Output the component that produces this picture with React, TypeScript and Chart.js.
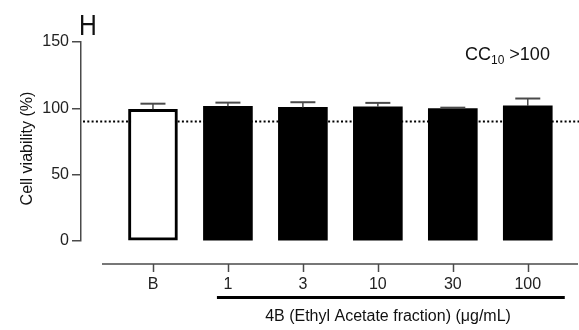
import React, { useEffect, useRef } from "react";
import { Chart, registerables } from "chart.js";

Chart.register(...registerables);

const categories: string[] = ["B", "1", "3", "10", "30", "100"];
const viability: number[] = [99.3, 101.5, 100.7, 101.2, 99.8, 101.8];
const sem: number[] = [4.2, 2.8, 3.9, 2.9, 0.7, 5.6];
const yTicks: number[] = [0, 50, 100, 150];
const thresholdValue = 90;
const panelLetter = "H";
const ccLabel = ["CC", "10", " >100"];
const xTitle = "4B (Ethyl Acetate fraction) (\u03bcg/mL)";
const yTitle = "Cell viability (%)";

const FONT = "'Liberation Sans', Arial, Helvetica, sans-serif";

export default function App() {
  const ref = useRef<HTMLCanvasElement | null>(null);

  useEffect(() => {
    if (!ref.current) return;

    const overlay = {
      id: "overlay",
      beforeDatasetsDraw(chart: any) {
        const { ctx, scales } = chart;
        const y = scales.y.getPixelForValue(thresholdValue);
        ctx.save();
        ctx.strokeStyle = "#000";
        ctx.lineWidth = 2;
        ctx.setLineDash([2, 2.3]);
        ctx.beginPath();
        ctx.moveTo(chart.chartArea.left + 2, y);
        ctx.lineTo(chart.width, y);
        ctx.stroke();
        ctx.restore();
      },
      afterDatasetsDraw(chart: any) {
        const { ctx, scales } = chart;
        const xs = scales.x;
        const ys = scales.y;
        ctx.save();
        // error bars
        viability.forEach((v, i) => {
          const x = xs.getPixelForValue(i);
          const y0 = ys.getPixelForValue(v);
          const y1 = ys.getPixelForValue(v + sem[i]);
          ctx.strokeStyle = "#4a4a4a";
          ctx.lineWidth = 1.5;
          ctx.beginPath();
          ctx.moveTo(x, y0);
          ctx.lineTo(x, y1);
          ctx.stroke();
          ctx.lineWidth = 2;
          ctx.beginPath();
          ctx.moveTo(x - 12.5, y1);
          ctx.lineTo(x + 12.5, y1);
          ctx.stroke();
        });
        // separate x axis line
        const axisY = ys.bottom + 23;
        ctx.strokeStyle = "#4a4a4a";
        ctx.lineWidth = 1.5;
        ctx.beginPath();
        ctx.moveTo(102, axisY);
        ctx.lineTo(chart.chartArea.right, axisY);
        ctx.stroke();
        categories.forEach((_, i) => {
          const x = Math.round(xs.getPixelForValue(i)) + 0.5;
          ctx.beginPath();
          ctx.moveTo(x, axisY);
          ctx.lineTo(x, axisY + 8);
          ctx.stroke();
        });
        // underline below treated groups
        ctx.strokeStyle = "#000";
        ctx.lineWidth = 3;
        ctx.beginPath();
        ctx.moveTo(xs.getPixelForValue(1) - 11, axisY + 33.5);
        ctx.lineTo(xs.getPixelForValue(5) + 37, axisY + 33.5);
        ctx.stroke();

        // texts
        ctx.fillStyle = "#111";
        ctx.textBaseline = "alphabetic";
        ctx.textAlign = "left";
        ctx.font = `29px ${FONT}`;
        ctx.save();
        ctx.translate(79, 35);
        ctx.scale(0.85, 1);
        ctx.fillText(panelLetter, 0, 0);
        ctx.restore();

        let cx = 465;
        ctx.font = `18px ${FONT}`;
        ctx.fillText(ccLabel[0], cx, 60);
        cx += ctx.measureText(ccLabel[0]).width;
        ctx.font = `12px ${FONT}`;
        ctx.fillText(ccLabel[1], cx, 64);
        cx += ctx.measureText(ccLabel[1]).width;
        ctx.font = `18px ${FONT}`;
        ctx.fillText(ccLabel[2], cx, 60);

        ctx.font = `16px ${FONT}`;
        ctx.textAlign = "center";
        ctx.fillText(xTitle, 388, 321);

        ctx.save();
        ctx.translate(32, 148.5);
        ctx.rotate(-Math.PI / 2);
        ctx.fillText(yTitle, 0, 0);
        ctx.restore();

        ctx.restore();
      },
    };

    const chart = new Chart(ref.current, {
      type: "bar",
      data: {
        datasets: [
          {
            data: viability.map((v, i) => ({ x: i, y: v })),
            backgroundColor: categories.map((_, i) => (i === 0 ? "#ffffff" : "#000000")),
            borderColor: "#000000",
            borderWidth: categories.map((_, i) => (i === 0 ? 3 : 0)),
            borderSkipped: false,
            barThickness: 49,
          },
        ],
      },
      options: {
        responsive: false,
        animation: false,
        devicePixelRatio: 1,
        layout: { padding: { top: 42, right: 1, left: 0, bottom: 0 } },
        plugins: { legend: { display: false }, tooltip: { enabled: false }, title: { display: false } },
        scales: {
          x: {
            type: "linear",
            offset: false,
            min: -0.96,
            max: 5.67,
            grid: { display: false, drawTicks: false, offset: false },
            border: { display: false },
            afterBuildTicks: (scale: any) => {
              scale.ticks = categories.map((_, i) => ({ value: i }));
            },
            afterFit: (scale: any) => {
              scale.height = 89;
            },
            ticks: {
              autoSkip: false,
              maxRotation: 0,
              padding: 34,
              color: "#222",
              font: { family: FONT, size: 16 },
              callback: (v: any) => categories[v as number] ?? "",
            },
          },
          y: {
            min: 0,
            max: 150,
            afterBuildTicks: (scale: any) => {
              scale.ticks = yTicks.map((v) => ({ value: v }));
            },
            afterFit: (scale: any) => {
              scale.width = 81;
            },
            grid: {
              drawOnChartArea: false,
              drawTicks: true,
              tickLength: 9,
              color: "#4a4a4a",
              lineWidth: 1.5,
            },
            border: { display: true, color: "#4a4a4a", width: 1.5 },
            ticks: {
              padding: 3,
              color: "#222",
              font: { family: FONT, size: 16 },
            },
          },
        },
      },
      plugins: [overlay],
    } as any);

    return () => chart.destroy();
  }, []);

  return (
    <div style={{ position: "fixed", left: 0, top: 0, width: 579, height: 330, background: "#fff" }}>
      <canvas ref={ref} width={579} height={330} style={{ display: "block" }} />
    </div>
  );
}
